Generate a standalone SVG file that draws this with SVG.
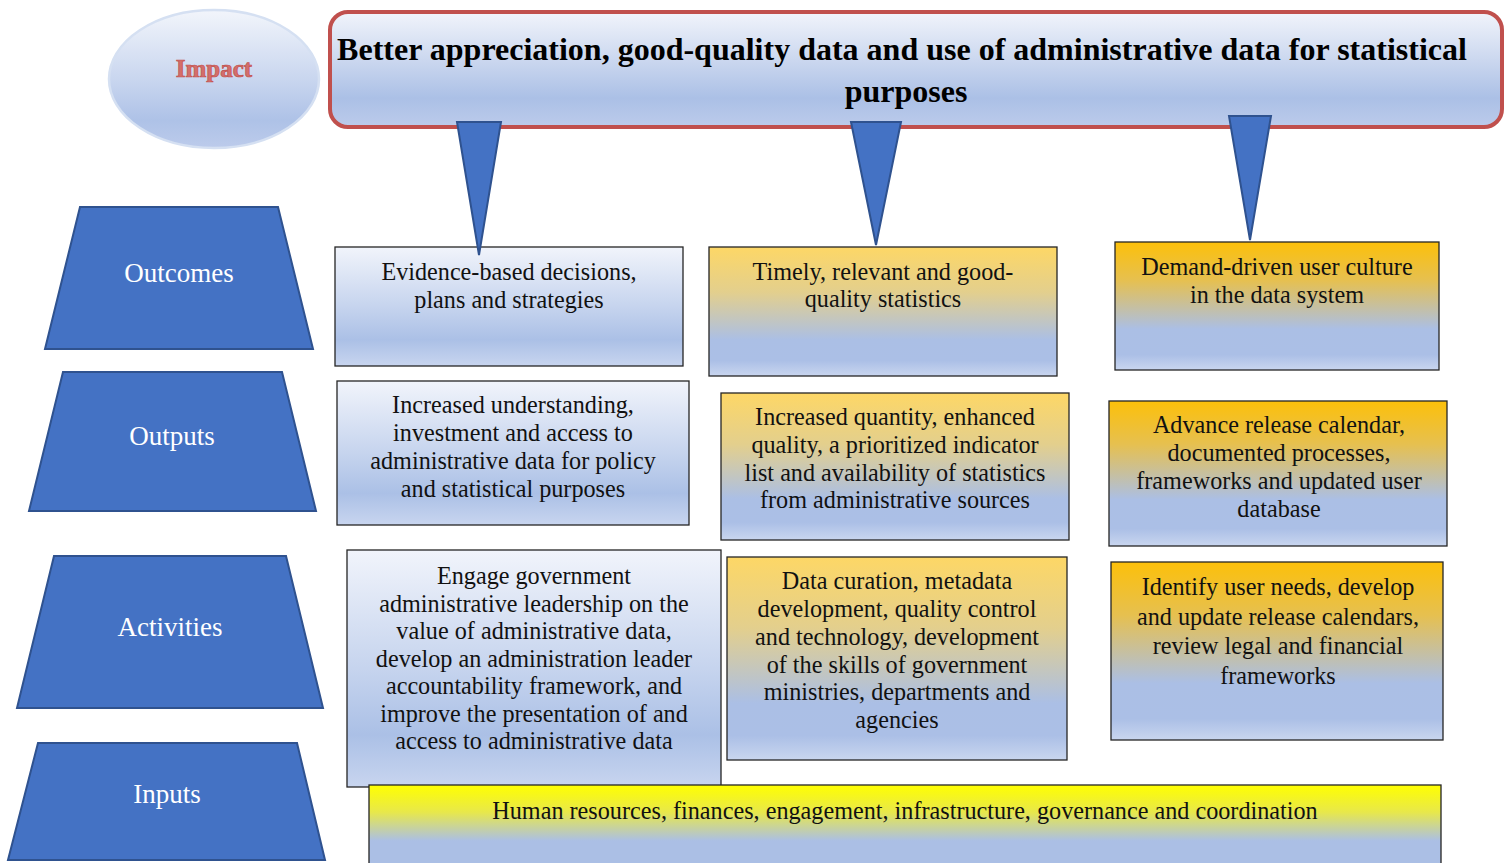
<svg xmlns="http://www.w3.org/2000/svg" width="1510" height="863" viewBox="0 0 1510 863">
  <defs>
    <linearGradient id="gBlue" x1="0" y1="0" x2="0" y2="1">
      <stop offset="0" stop-color="#f1f4fb"/>
      <stop offset="0.5" stop-color="#c6d4ee"/>
      <stop offset="0.78" stop-color="#abc0e6"/>
      <stop offset="1" stop-color="#c8d5ef"/>
    </linearGradient>
    <linearGradient id="gGold" x1="0" y1="0" x2="0" y2="1">
      <stop offset="0" stop-color="#fdd766"/>
      <stop offset="0.35" stop-color="#e3cf8d"/>
      <stop offset="0.72" stop-color="#abbfe5"/>
      <stop offset="0.88" stop-color="#abbfe6"/>
      <stop offset="1" stop-color="#c9d6ef"/>
    </linearGradient>
    <linearGradient id="gAmber" x1="0" y1="0" x2="0" y2="1">
      <stop offset="0" stop-color="#fcc00a"/>
      <stop offset="0.3" stop-color="#e6c050"/>
      <stop offset="0.68" stop-color="#abbfe5"/>
      <stop offset="0.88" stop-color="#abbfe6"/>
      <stop offset="1" stop-color="#c9d6ef"/>
    </linearGradient>
    <linearGradient id="gYellow" x1="0" y1="0" x2="0" y2="1">
      <stop offset="0" stop-color="#ffff00"/>
      <stop offset="0.3" stop-color="#e8e84a"/>
      <stop offset="0.62" stop-color="#abbfe5"/>
      <stop offset="1" stop-color="#abbfe5"/>
    </linearGradient>
    <linearGradient id="gTitle" x1="0" y1="0" x2="0" y2="1">
      <stop offset="0" stop-color="#f1f4fb"/>
      <stop offset="0.45" stop-color="#c8d5ee"/>
      <stop offset="0.75" stop-color="#abc0e6"/>
      <stop offset="1" stop-color="#bccbeb"/>
    </linearGradient>
    <linearGradient id="gImpact" x1="0" y1="0" x2="0" y2="1">
      <stop offset="0" stop-color="#f2f5fb"/>
      <stop offset="0.5" stop-color="#c9d6ef"/>
      <stop offset="0.8" stop-color="#aec2e7"/>
      <stop offset="1" stop-color="#bccbeb"/>
    </linearGradient>
  </defs>
  <style>
    .lvl { fill: #4472c4; stroke: #2f528f; stroke-width: 2; }
    .lvl-t { font-family: "Liberation Serif", "Times New Roman", serif; font-size: 27px; fill: #ffffff; text-anchor: middle; }
    .box { stroke: #262626; stroke-width: 1.3; }
    .bt { font-family: "Liberation Serif", "Times New Roman", serif; font-size: 24.2px; fill: #111111; text-anchor: middle; }
    .ptr { fill: #4472c4; stroke: #2f528f; stroke-width: 2; stroke-linejoin: miter; }
  </style>

  <rect width="1510" height="863" fill="#ffffff"/>

  <!-- impact ellipse -->
  <g id="impact">
    <ellipse cx="214" cy="79" rx="105" ry="69" fill="url(#gImpact)" stroke="#d5e0f2" stroke-width="2.5"/>
    <text x="214" y="77" font-family="Liberation Serif, 'Times New Roman', serif" font-size="25" font-weight="bold" fill="#d46e6b" stroke="#c0504d" stroke-width="0.7" text-anchor="middle">Impact</text>
  </g>

  <!-- overall goal -->
  <g id="goal">
    <rect x="330" y="12" width="1172" height="115" rx="18" ry="18" fill="url(#gTitle)" stroke="#c0504d" stroke-width="4"/>
    <text font-family="Liberation Serif, 'Times New Roman', serif" font-size="32" font-weight="bold" fill="#000000" text-anchor="middle">
      <tspan x="906" y="60">Better appreciation, good-quality data and use of administrative data for statistical</tspan>
      <tspan x="906" y="102">purposes</tspan>
    </text>
  </g>

  <!-- level labels -->
  <g id="lvl-outcomes">
    <polygon class="lvl" points="80,207 278,207 313,349 45,349"/>
    <text class="lvl-t" x="179" y="282">Outcomes</text>
  </g>
  <g id="lvl-outputs">
    <polygon class="lvl" points="63,372 282,372 316,511 29,511"/>
    <text class="lvl-t" x="172" y="445">Outputs</text>
  </g>
  <g id="lvl-activities">
    <polygon class="lvl" points="54,556 286,556 323,708 17,708"/>
    <text class="lvl-t" x="170" y="636">Activities</text>
  </g>
  <g id="lvl-inputs">
    <polygon class="lvl" points="38,743 297,743 325,860 8,860"/>
    <text class="lvl-t" x="167" y="803">Inputs</text>
  </g>

  <!-- outcomes row -->
  <g id="outcome-1">
    <rect class="box" x="335" y="247" width="348" height="119" fill="url(#gBlue)"/>
    <text class="bt"><tspan x="509" y="280">Evidence-based decisions,</tspan><tspan x="509" y="308">plans and strategies</tspan></text>
  </g>
  <g id="outcome-2">
    <rect class="box" x="709" y="247" width="348" height="129" fill="url(#gGold)"/>
    <text class="bt"><tspan x="883" y="280">Timely, relevant and good-</tspan><tspan x="883" y="307">quality statistics</tspan></text>
  </g>
  <g id="outcome-3">
    <rect class="box" x="1115" y="242" width="324" height="128" fill="url(#gAmber)"/>
    <text class="bt"><tspan x="1277" y="275">Demand-driven user culture</tspan><tspan x="1277" y="303">in the data system</tspan></text>
  </g>

  <!-- outputs row -->
  <g id="output-1">
    <rect class="box" x="337" y="381" width="352" height="144" fill="url(#gBlue)"/>
    <text class="bt"><tspan x="513" y="413">Increased understanding,</tspan><tspan x="513" y="441">investment and access to</tspan><tspan x="513" y="469">administrative data for policy</tspan><tspan x="513" y="497">and statistical purposes</tspan></text>
  </g>
  <g id="output-2">
    <rect class="box" x="721" y="393" width="348" height="147" fill="url(#gGold)"/>
    <text class="bt"><tspan x="895" y="425">Increased quantity, enhanced</tspan><tspan x="895" y="453">quality, a prioritized indicator</tspan><tspan x="895" y="481">list and availability of statistics</tspan><tspan x="895" y="508">from administrative sources</tspan></text>
  </g>
  <g id="output-3">
    <rect class="box" x="1109" y="401" width="338" height="145" fill="url(#gAmber)"/>
    <text class="bt"><tspan x="1279" y="433">Advance release calendar,</tspan><tspan x="1279" y="461">documented processes,</tspan><tspan x="1279" y="489">frameworks and updated user</tspan><tspan x="1279" y="517">database</tspan></text>
  </g>

  <!-- activities row -->
  <g id="activity-1">
    <rect class="box" x="347" y="550" width="374" height="237" fill="url(#gBlue)"/>
    <text class="bt"><tspan x="534" y="584">Engage government</tspan><tspan x="534" y="612">administrative leadership on the</tspan><tspan x="534" y="639">value of administrative data,</tspan><tspan x="534" y="667">develop an administration leader</tspan><tspan x="534" y="694">accountability framework, and</tspan><tspan x="534" y="722">improve the presentation of and</tspan><tspan x="534" y="749">access to administrative data</tspan></text>
  </g>
  <g id="activity-2">
    <rect class="box" x="727" y="557" width="340" height="203" fill="url(#gGold)"/>
    <text class="bt"><tspan x="897" y="589">Data curation, metadata</tspan><tspan x="897" y="617">development, quality control</tspan><tspan x="897" y="645">and technology, development</tspan><tspan x="897" y="673">of the skills of government</tspan><tspan x="897" y="700">ministries, departments and</tspan><tspan x="897" y="728">agencies</tspan></text>
  </g>
  <g id="activity-3">
    <rect class="box" x="1111" y="562" width="332" height="178" fill="url(#gAmber)"/>
    <text class="bt"><tspan x="1278" y="595">Identify user needs, develop</tspan><tspan x="1278" y="625">and update release calendars,</tspan><tspan x="1278" y="654">review legal and financial</tspan><tspan x="1278" y="684">frameworks</tspan></text>
  </g>

  <!-- inputs row -->
  <g id="inputs">
    <rect class="box" x="369" y="785" width="1072" height="90" fill="url(#gYellow)"/>
    <text class="bt" x="905" y="819" font-size="23">Human resources, finances, engagement, infrastructure, governance and coordination</text>
  </g>

  <!-- pointers from the goal down to the outcomes -->
  <g id="connectors">
    <polygon class="ptr" points="457,122 501,122 479,255"/>
    <polygon class="ptr" points="851,122 901,122 876,245"/>
    <polygon class="ptr" points="1229,116 1271,116 1250,240"/>
  </g>
</svg>
